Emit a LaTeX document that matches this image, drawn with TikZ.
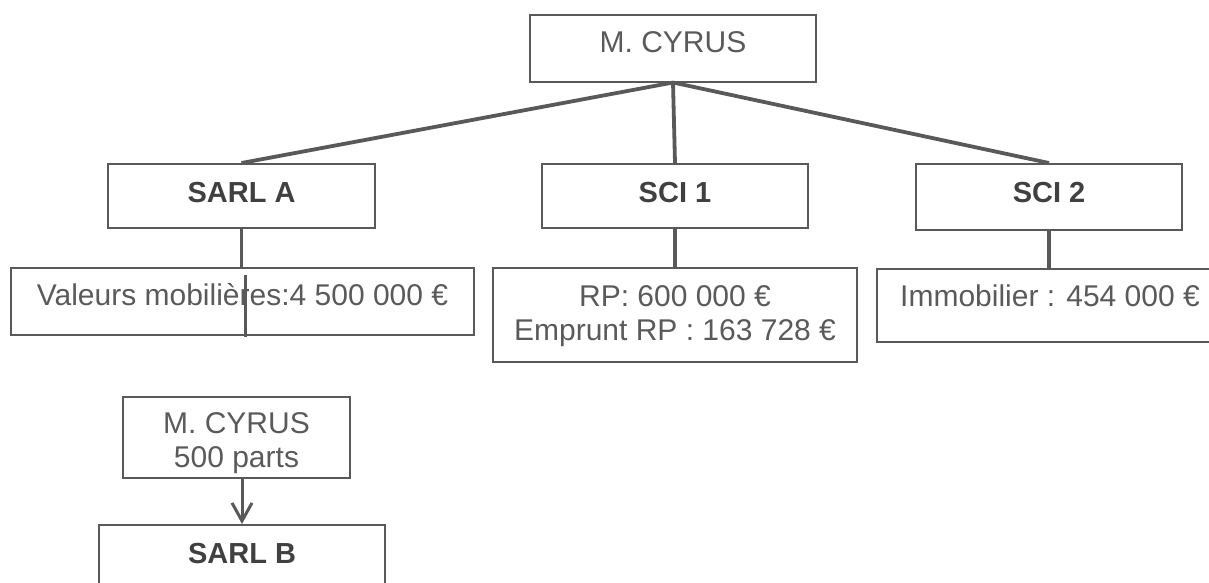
\documentclass[tikz,border=0pt]{standalone}
\usepackage{fontspec}
\setmainfont{Liberation Sans}
\usepackage{tikz}
\usetikzlibrary{arrows.meta}
\definecolor{trait}{HTML}{595959}
\definecolor{texte}{HTML}{5A5A5A}
\definecolor{gras}{HTML}{404040}

\begin{document}
\begin{tikzpicture}[x=1pt,y=-1pt,
  boite/.style={draw=trait,line width=1.5pt,inner sep=0pt,anchor=north,text=texte,
    font=\fontsize{30}{34}\selectfont},
  titre/.style={boite,text=gras,font=\fontsize{29}{34}\selectfont\bfseries},
  lien/.style={draw=trait,line width=3.8pt}]
% Page
\clip (0,0) rectangle (1209,582);

% Associe
\node[boite,minimum width=286pt,text height=37.5pt,text depth=29.5pt] (cyrus) at (673,14) {M. CYRUS};

% Societes
\node[titre,minimum width=267pt,text height=39pt,text depth=25pt] (sarlA) at (241.5,163) {SARL A};
\node[titre,minimum width=266pt,text height=39pt,text depth=25pt] (sci1) at (675,163) {SCI 1};
\node[titre,minimum width=266pt,text height=39pt,text depth=27pt] (sci2) at (1049,163) {SCI 2};

% Actifs
\node[boite,minimum width=463pt,text height=38pt,text depth=29pt] (valeurs) at (242.5,267) {Valeurs mobilières:4 500 000 €};
\node[boite,minimum width=364pt,text height=38.5pt,text depth=55.5pt] (rp) at (675,267)
  {\begin{tabular}[t]{@{}c@{}}RP: 600 000 €\\Emprunt RP : 163 728 €\end{tabular}};
\node[boite,minimum width=346pt,text height=37.5pt,text depth=35.5pt] (immo) at (1050,268) {Immobilier : 454 000 €};

% SARL B
\node[boite,minimum width=227pt,text height=37pt,text depth=44pt] (cyrus2) at (236.5,396)
  {\begin{tabular}[t]{@{}c@{}}M. CYRUS\\500 parts\end{tabular}};
\node[titre,minimum width=286pt,text height=39pt,text depth=40pt] (sarlB) at (242,524) {SARL B};

% Liens
\draw[lien] (cyrus.south) -- (sarlA.north);
\draw[lien] (cyrus.south) -- (sci1.north);
\draw[lien] (cyrus.south) -- (sci2.north);
\draw[lien] (sarlA.south) -- (sarlA.south |- valeurs.north);
\draw[lien] (sci1.south) -- (sci1.south |- rp.north);
\draw[lien] (sci2.south) -- (sci2.south |- immo.north);
\draw[lien,line width=3pt] ([shift={(2.5,8)}]valeurs.north) -- ([shift={(2.5,1)}]valeurs.south);

\draw[lien,line width=3pt,-{Straight Barb[length=18pt,width=20pt]}] (sarlB.north |- cyrus2.south) -- (sarlB.north);
\end{tikzpicture}
\end{document}
